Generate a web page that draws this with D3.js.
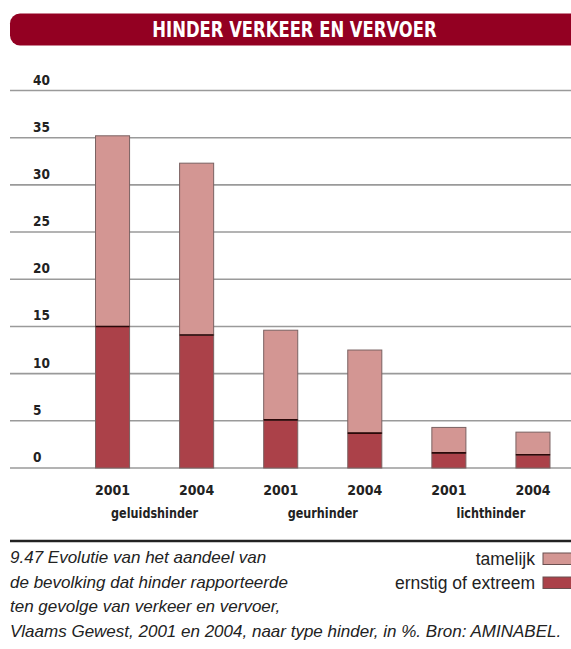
<!DOCTYPE html>
<html><head><meta charset="utf-8">
<script src="https://cdn.jsdelivr.net/npm/d3@7"></script>
<style>
html,body{margin:0;padding:0;background:#fff;overflow:hidden;}
svg{display:block;}
.cond{font-family:"Liberation Sans Narrow","Arial Narrow","DejaVu Sans Condensed",sans-serif;font-weight:bold;}
.cap{font-family:"Liberation Sans",Arial,sans-serif;}
</style>
</head><body>
<svg id="chart" width="571" height="649"></svg>
<script>
const title = "HINDER VERKEER EN VERVOER";
const bars = ["g2001","g2004","u2001","u2004","l2001","l2004"];
const years = ["2001","2004","2001","2004","2001","2004"];
const groups = ["geluidshinder","geurhinder","lichthinder"];
const ernstig = [15.0, 14.1, 5.1, 3.7, 1.6, 1.4];
const tamelijk = [20.2, 18.2, 9.5, 8.8, 2.7, 2.4];
const yTicks = [0,5,10,15,20,25,30,35,40];
const seriesNames = ["tamelijk","ernstig of extreem"];
const colors = ["#d39693","#ab4149"];
const captionLines = [
  "9.47  Evolutie van het aandeel van",
  "de bevolking dat hinder rapporteerde",
  "ten gevolge van verkeer en vervoer,",
  "Vlaams Gewest, 2001 en 2004, naar type hinder, in %. Bron: AMINABEL."
];

const svg = d3.select("#chart");

function squeeze(sel, f){
  sel.each(function(){
    const len = this.getComputedTextLength();
    d3.select(this).attr("textLength", len*f).attr("lengthAdjust","spacingAndGlyphs");
  });
}

// title banner
svg.append("rect").attr("x",10).attr("y",13.5).attr("width",600).attr("height",32)
  .attr("rx",10).attr("fill","#930022");
svg.append("text").attr("class","cond").attr("x",294.5).attr("y",37)
  .attr("text-anchor","middle").attr("fill","#fff").attr("font-size",20.5).text(title)
  .call(squeeze, 0.89);

const y = d3.scaleLinear().domain([0,40]).range([468,90.5]);
const x = d3.scaleBand().domain(bars).range([70.5,575]).paddingInner(0.595).paddingOuter(0.2975);

// gridlines
const grid = svg.append("g");
yTicks.forEach(t=>{
  grid.append("line").attr("x1",10).attr("x2",571).attr("y1",y(t)).attr("y2",y(t))
    .attr("stroke","#9a9a9a").attr("stroke-width",1.6);
  grid.append("text").attr("class","cond").attr("x",33).attr("y",y(t)-6)
    .attr("font-size",13.5).attr("fill","#222").text(t);
});

// bars
const stack = d3.stack().keys(["e","t"])(bars.map((b,i)=>({b, e:ernstig[i], t:tamelijk[i]})));
const g = svg.append("g");
stack.forEach((layer,li)=>{
  g.selectAll(null).data(layer).enter().append("rect")
    .attr("x",d=>x(d.data.b)).attr("width",x.bandwidth())
    .attr("y",d=>y(d[1])).attr("height",d=>y(d[0])-y(d[1]))
    .attr("fill",li===0?colors[1]:colors[0])
    .attr("stroke","#7a6262").attr("stroke-width",1);
});
// dark boundary line between segments
g.selectAll(null).data(stack[0]).enter().append("line")
  .attr("x1",d=>x(d.data.b)).attr("x2",d=>x(d.data.b)+x.bandwidth())
  .attr("y1",d=>y(d[1])).attr("y2",d=>y(d[1]))
  .attr("stroke","#2a0808").attr("stroke-width",1.6);

// x labels
svg.append("g").selectAll("text").data(bars).enter().append("text").attr("class","cond")
  .attr("x",d=>x(d)+x.bandwidth()/2).attr("y",495).attr("text-anchor","middle")
  .attr("font-size",14).attr("fill","#222").text((d,i)=>years[i]);
svg.append("g").selectAll("text").data(groups).enter().append("text").attr("class","cond")
  .attr("x",(d,i)=>(x(bars[2*i])+x(bars[2*i+1])+x.bandwidth())/2).attr("y",518)
  .attr("text-anchor","middle").attr("font-size",14).attr("fill","#222").text(d=>d)
  .call(squeeze, 0.89);

// bottom rule
svg.append("line").attr("x1",10).attr("x2",571).attr("y1",541).attr("y2",541)
  .attr("stroke","#222").attr("stroke-width",2.5);

// caption
svg.append("g").selectAll("text").data(captionLines).enter().append("text").attr("class","cap")
  .attr("x",10).attr("y",(d,i)=>563+i*24.5).attr("font-style","italic")
  .attr("font-size",17).attr("fill","#222").text(d=>d);

// legend
seriesNames.forEach((s,i)=>{
  const yy = 553+i*24;
  svg.append("rect").attr("x",543).attr("y",yy).attr("width",40).attr("height",11.5)
    .attr("fill",colors[i]).attr("stroke","#6a5050").attr("stroke-width",1);
  svg.append("text").attr("class","cap").attr("x",535).attr("y",yy+11.5)
    .attr("text-anchor","end").attr("font-size",17.5).attr("fill","#222").text(s);
});
</script>
</body></html>
